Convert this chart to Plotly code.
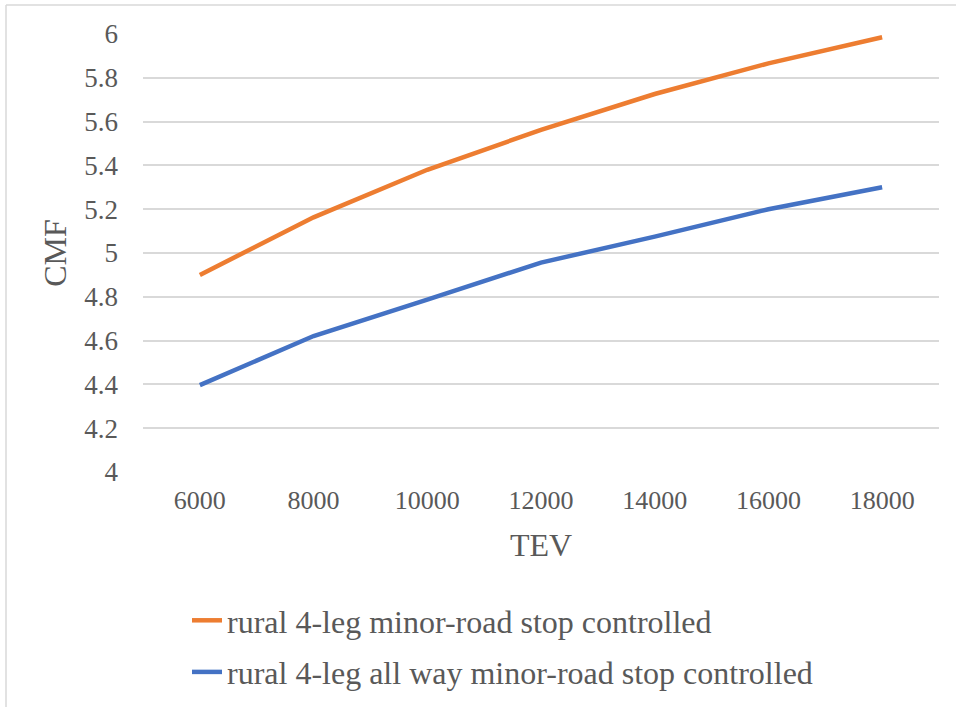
import plotly.graph_objects as go

tev = ["6000", "8000", "10000", "12000", "14000", "16000", "18000"]
cmf_minor = [4.9, 5.163, 5.38, 5.562, 5.726, 5.866, 5.985]
cmf_allway = [4.397, 4.621, 4.787, 4.956, 5.075, 5.2, 5.3]
series_names = ["rural 4-leg minor-road stop controlled",
                "rural 4-leg all way minor-road stop controlled"]
y_ticks = [4, 4.2, 4.4, 4.6, 4.8, 5, 5.2, 5.4, 5.6, 5.8, 6]
y_ticktext = ["4", "4.2", "4.4", "4.6", "4.8", "5", "5.2", "5.4", "5.6", "5.8", "6"]

FONT = "Liberation Serif"
TXT = "#595959"

W, H = 956, 707
L, R, T, B = 143, 17, 34, 235
pw, ph = W - L - R, H - T - B

def px(x):
    return (x - L) / pw

def py(y):
    return (H - B - y) / ph

fig = go.Figure()
fig.add_trace(go.Scatter(x=tev, y=cmf_minor, mode="lines", name=series_names[0],
                         legendgroup="a",
                         line=dict(color="#ED7D31", width=4.5)))
fig.add_trace(go.Scatter(x=tev, y=cmf_allway, mode="lines", name=series_names[1],
                         legendgroup="b",
                         line=dict(color="#4472C4", width=4.5)))

fig.update_layout(
    width=W, height=H,
    margin=dict(l=L, r=R, t=T, b=B, pad=0, autoexpand=False),
    paper_bgcolor="white", plot_bgcolor="white",
    font=dict(family=FONT, color=TXT, size=26),
    showlegend=True,
    legend=dict(x=px(187), y=py(593), xanchor="left", yanchor="top",
                font=dict(size=32, color=TXT, family=FONT),
                traceorder="grouped", tracegroupgap=7,
                bgcolor="rgba(0,0,0,0)", itemwidth=30),
    xaxis=dict(type="category", range=[-0.5, 6.5], showgrid=False, zeroline=False,
               showline=False, ticks="",
               tickfont=dict(size=26, color=TXT, family=FONT), ticklabelstandoff=10,
               title=dict(text="TEV", font=dict(size=32, color=TXT, family=FONT), standoff=19)),
    yaxis=dict(range=[4, 6], tickvals=y_ticks, ticktext=y_ticktext,
               showgrid=True, gridcolor="#D9D9D9", gridwidth=1.5,
               zeroline=False, showline=False, ticks="",
               tickfont=dict(size=27, color=TXT, family=FONT), ticklabelstandoff=24,
               title=dict(text="CMF", font=dict(size=32, color=TXT, family=FONT), standoff=8)),
    shapes=[
        dict(type="line", xref="paper", yref="paper", x0=px(6), x1=px(6), y0=py(H + 5), y1=py(5),
             line=dict(color="#D9D9D9", width=1.5)),
        dict(type="line", xref="paper", yref="paper", x0=px(6), x1=px(W + 5), y0=py(5), y1=py(5),
             line=dict(color="#D9D9D9", width=1.5)),
    ],
)

fig.write_html("out.html", config={"displayModeBar": False},
               post_script="document.body.style.margin='0';")
